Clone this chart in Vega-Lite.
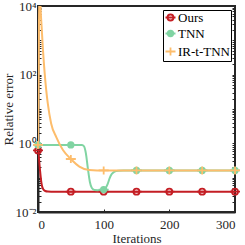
{
  "$schema": "https://vega.github.io/schema/vega-lite/v6.json",
  "width": 197,
  "height": 206,
  "autosize": {"type": "none"},
  "padding": {"left": 38, "top": 6, "right": 10, "bottom": 33},
  "config": {
    "view": {"stroke": "#262626", "strokeWidth": 2},
    "font": "Times New Roman, Liberation Serif, Times, serif",
    "axis": {
      "domainColor": "#262626", "domainWidth": 2, "tickColor": "#262626",
      "labelColor": "#262626", "titleColor": "#262626",
      "labelFont": "Times New Roman, Liberation Serif, Times, serif", "titleFont": "Times New Roman, Liberation Serif, Times, serif",
      "labelFontSize": 13, "titleFontSize": 13, "titleFontWeight": "normal",
      "grid": false, "tickSize": -3, "tickWidth": 1
    },
    "legend": {
      "labelFont": "Times New Roman, Liberation Serif, Times, serif", "labelFontSize": 13, "labelColor": "#000000"
    }
  },
  "data": {"values": [
    {"s": "Ours", "x": 0, "y": 0.62, "m": 1},
    {"s": "Ours", "x": 1, "y": 0.45, "m": 0},
    {"s": "Ours", "x": 2, "y": 0.28, "m": 0},
    {"s": "Ours", "x": 3, "y": 0.17, "m": 0},
    {"s": "Ours", "x": 4, "y": 0.11, "m": 0},
    {"s": "Ours", "x": 5, "y": 0.075, "m": 0},
    {"s": "Ours", "x": 6, "y": 0.058, "m": 0},
    {"s": "Ours", "x": 8, "y": 0.046, "m": 0},
    {"s": "Ours", "x": 11, "y": 0.041, "m": 0},
    {"s": "Ours", "x": 15, "y": 0.0395, "m": 0},
    {"s": "Ours", "x": 25, "y": 0.039, "m": 0},
    {"s": "Ours", "x": 50, "y": 0.039, "m": 1},
    {"s": "Ours", "x": 100, "y": 0.039, "m": 1},
    {"s": "Ours", "x": 150, "y": 0.039, "m": 1},
    {"s": "Ours", "x": 200, "y": 0.039, "m": 1},
    {"s": "Ours", "x": 250, "y": 0.039, "m": 1},
    {"s": "Ours", "x": 300, "y": 0.039, "m": 1},
    {"s": "TNN", "x": 0, "y": 0.9, "m": 1},
    {"s": "TNN", "x": 50, "y": 0.9, "m": 1},
    {"s": "TNN", "x": 67, "y": 0.9, "m": 0},
    {"s": "TNN", "x": 70, "y": 0.82, "m": 0},
    {"s": "TNN", "x": 73, "y": 0.5, "m": 0},
    {"s": "TNN", "x": 76, "y": 0.18, "m": 0},
    {"s": "TNN", "x": 79, "y": 0.075, "m": 0},
    {"s": "TNN", "x": 82, "y": 0.05, "m": 0},
    {"s": "TNN", "x": 86, "y": 0.044, "m": 0},
    {"s": "TNN", "x": 95, "y": 0.043, "m": 0},
    {"s": "TNN", "x": 100, "y": 0.045, "m": 1},
    {"s": "TNN", "x": 103, "y": 0.05, "m": 0},
    {"s": "TNN", "x": 106, "y": 0.065, "m": 0},
    {"s": "TNN", "x": 109, "y": 0.095, "m": 0},
    {"s": "TNN", "x": 112, "y": 0.125, "m": 0},
    {"s": "TNN", "x": 116, "y": 0.148, "m": 0},
    {"s": "TNN", "x": 122, "y": 0.159, "m": 0},
    {"s": "TNN", "x": 130, "y": 0.162, "m": 0},
    {"s": "TNN", "x": 150, "y": 0.162, "m": 1},
    {"s": "TNN", "x": 200, "y": 0.162, "m": 1},
    {"s": "TNN", "x": 250, "y": 0.162, "m": 1},
    {"s": "TNN", "x": 300, "y": 0.162, "m": 1},
    {"s": "IR-t-TNN", "x": 0, "y": 0.9, "m": 1},
    {"s": "IR-t-TNN", "x": 1, "y": 80, "m": 0},
    {"s": "IR-t-TNN", "x": 2, "y": 40000, "m": 0},
    {"s": "IR-t-TNN", "x": 3, "y": 30000, "m": 0},
    {"s": "IR-t-TNN", "x": 4, "y": 8000, "m": 0},
    {"s": "IR-t-TNN", "x": 5.5, "y": 2500, "m": 0},
    {"s": "IR-t-TNN", "x": 7.5, "y": 550, "m": 0},
    {"s": "IR-t-TNN", "x": 10, "y": 120, "m": 0},
    {"s": "IR-t-TNN", "x": 12.5, "y": 36, "m": 0},
    {"s": "IR-t-TNN", "x": 15, "y": 14, "m": 0},
    {"s": "IR-t-TNN", "x": 20, "y": 3.8, "m": 0},
    {"s": "IR-t-TNN", "x": 28, "y": 1.5, "m": 0},
    {"s": "IR-t-TNN", "x": 38, "y": 0.64, "m": 0},
    {"s": "IR-t-TNN", "x": 50, "y": 0.35, "m": 1},
    {"s": "IR-t-TNN", "x": 63, "y": 0.21, "m": 0},
    {"s": "IR-t-TNN", "x": 78, "y": 0.166, "m": 0},
    {"s": "IR-t-TNN", "x": 90, "y": 0.162, "m": 0},
    {"s": "IR-t-TNN", "x": 100, "y": 0.162, "m": 1},
    {"s": "IR-t-TNN", "x": 150, "y": 0.162, "m": 1},
    {"s": "IR-t-TNN", "x": 200, "y": 0.162, "m": 1},
    {"s": "IR-t-TNN", "x": 250, "y": 0.162, "m": 1},
    {"s": "IR-t-TNN", "x": 300, "y": 0.162, "m": 1}
  ]},
  "encoding": {
    "x": {
      "field": "x", "type": "quantitative",
      "scale": {"domain": [0, 300], "nice": false},
      "axis": {"values": [0, 100, 200, 300], "title": "Iterations", "labelPadding": 9, "titlePadding": 1}
    }
  },
  "layer": [
    {
      "mark": {"type": "line", "interpolate": "monotone", "clip": true, "strokeWidth": 2},
      "encoding": {
        "y": {
          "field": "y", "type": "quantitative",
          "scale": {"type": "log", "domain": [0.01, 10000], "nice": false},
          "axis": {
            "title": "Relative error", "titlePadding": 0, "labelPadding": 5,
            "values": [0.01, 0.02, 0.03, 0.04, 0.05, 0.06, 0.07, 0.08, 0.09, 0.1, 0.2, 0.3, 0.4, 0.5, 0.6, 0.7, 0.8, 0.9, 1, 2, 3, 4, 5, 6, 7, 8, 9, 10, 20, 30, 40, 50, 60, 70, 80, 90, 100, 200, 300, 400, 500, 600, 700, 800, 900, 1000, 2000, 3000, 4000, 5000, 6000, 7000, 8000, 9000, 10000],
            "labelExpr": "datum.value == 0.01 ? '10\u207b\u00b2' : datum.value == 1 ? '10\u2070' : datum.value == 100 ? '10\u00b2' : datum.value == 10000 ? '10\u2074' : ''",
            "labelOverlap": false, "labelFlush": false
          }
        },
        "color": {
          "field": "s", "type": "nominal",
          "scale": {"domain": ["Ours", "TNN", "IR-t-TNN"], "range": ["#c41e24", "#80d4a2", "#fdbd6c"]}
        }
      }
    },
    {
      "transform": [{"filter": "datum.m == 1"}],
      "mark": {"type": "point", "filled": false, "clip": false, "size": 100, "strokeWidth": 1.8, "opacity": 1},
      "encoding": {
        "y": {
          "field": "y", "type": "quantitative",
          "axis": {
            "orient": "right", "title": null, "labels": false, "domain": false,
            "values": [0.01, 0.02, 0.03, 0.04, 0.05, 0.06, 0.07, 0.08, 0.09, 0.1, 0.2, 0.3, 0.4, 0.5, 0.6, 0.7, 0.8, 0.9, 1, 2, 3, 4, 5, 6, 7, 8, 9, 10, 20, 30, 40, 50, 60, 70, 80, 90, 100, 200, 300, 400, 500, 600, 700, 800, 900, 1000, 2000, 3000, 4000, 5000, 6000, 7000, 8000, 9000, 10000]
          }
        },
        "color": {
          "field": "s", "type": "nominal",
          "scale": {"domain": ["Ours", "TNN", "IR-t-TNN"], "range": ["#c41e24", "#80d4a2", "#fdbd6c"]},
          "legend": {"title": null, "orient": "top-right", "offset": 4, "padding": 1, "strokeColor": "#000000", "fillColor": "#ffffff", "labelOffset": 1, "rowPadding": 2, "symbolStrokeWidth": 1.8}
        },
        "fill": {
          "field": "s", "type": "nominal",
          "scale": {"domain": ["Ours", "TNN", "IR-t-TNN"], "range": ["transparent", "#80d4a2", "transparent"]},
          "legend": {"title": null, "orient": "top-right", "offset": 4, "padding": 1, "strokeColor": "#000000", "fillColor": "#ffffff", "labelOffset": 1, "rowPadding": 2, "symbolStrokeWidth": 1.8}
        },
        "shape": {
          "field": "s", "type": "nominal",
          "scale": {"domain": ["Ours", "TNN", "IR-t-TNN"], "range": [
            "M-1,0L1,0M-0.6,0A0.6,0.6,0,1,1,0.6,0A0.6,0.6,0,1,1,-0.6,0",
            "M-1,0L1,0M-0.55,0A0.55,0.55,0,1,1,0.55,0A0.55,0.55,0,1,1,-0.55,0",
            "M-1,0L1,0M0,-0.8L0,0.8"
          ]},
          "legend": {"title": null, "orient": "top-right", "offset": 4, "padding": 1, "strokeColor": "#000000", "fillColor": "#ffffff", "labelOffset": 1, "rowPadding": 2, "symbolStrokeWidth": 1.8}
        }
      }
    }
  ],
  "resolve": {"axis": {"y": "independent"}}
}
